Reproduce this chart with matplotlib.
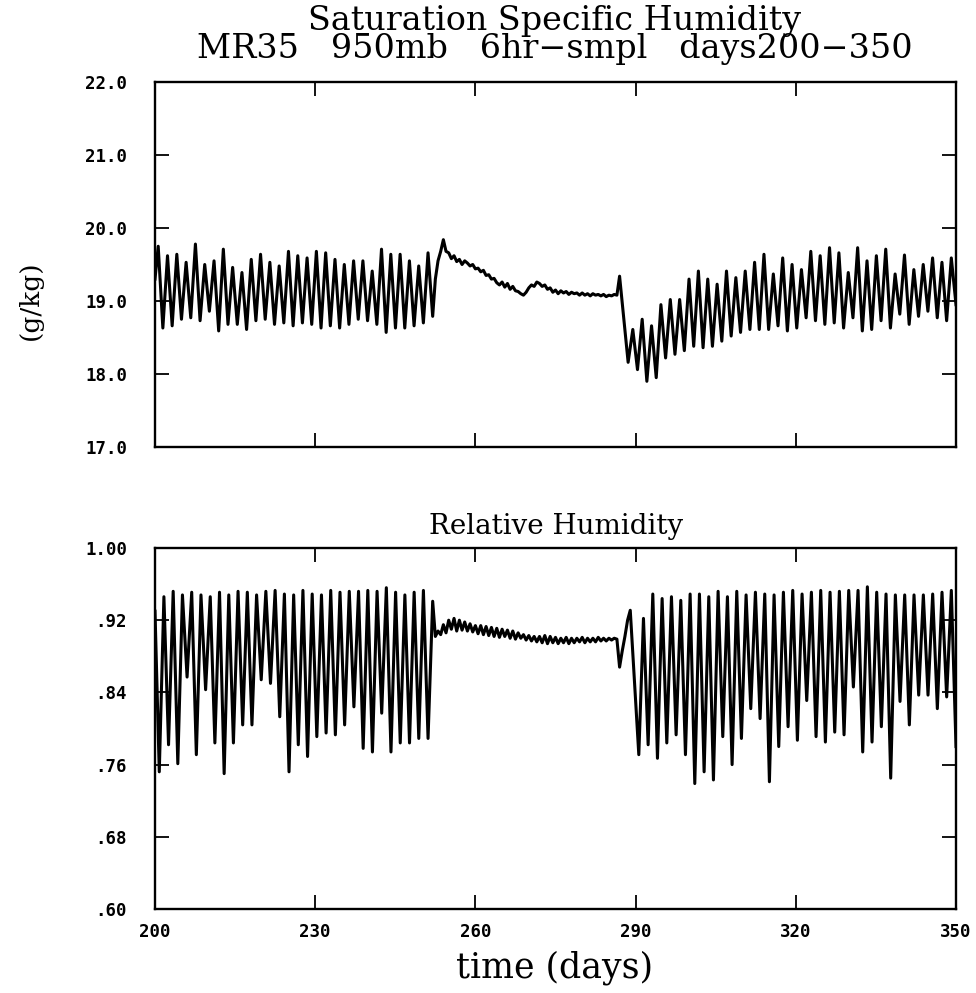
import numpy as np
import matplotlib
matplotlib.use("Agg")
import matplotlib.pyplot as plt
from matplotlib.ticker import FuncFormatter
from matplotlib.font_manager import FontProperties

# ---------------- data ----------------
# Saturation specific humidity (g/kg), 950 mb, days 200-350
qs_start = [200.0, 19.30]
qs_peaks_a = [19.75, 19.62, 19.64, 19.53, 19.78, 19.50, 19.55, 19.71, 19.46, 19.39,
              19.57, 19.64, 19.53, 19.48, 19.68, 19.62, 19.59, 19.68, 19.66, 19.57,
              19.50, 19.55, 19.55, 19.41, 19.71, 19.64, 19.64, 19.55, 19.48, 19.66]
qs_troughs_a = [18.63, 18.66, 18.75, 18.77, 18.73, 18.86, 18.59, 18.68, 18.68, 18.61,
                18.73, 18.75, 18.68, 18.70, 18.66, 18.70, 18.68, 18.63, 18.66, 18.63,
                18.68, 18.75, 18.73, 18.68, 18.57, 18.63, 18.63, 18.66, 18.70, 18.79]
qs_span_a = [200.6, 252.0]

# half-day values through the quiet spell (from day 252.5)
qs_quiet_start = 252.5
qs_quiet = [19.30, 19.55, 19.68, 19.84, 19.68, 19.66, 19.58, 19.62, 19.54, 19.57,
            19.50, 19.55, 19.52, 19.48, 19.50, 19.44, 19.45, 19.40, 19.42, 19.35,
            19.36, 19.30, 19.31, 19.25, 19.22, 19.26, 19.19, 19.24, 19.16, 19.20,
            19.14, 19.13, 19.10, 19.08, 19.12, 19.18, 19.22, 19.20, 19.26, 19.24,
            19.20, 19.22, 19.16, 19.18, 19.12, 19.15, 19.10, 19.14, 19.11, 19.13,
            19.09, 19.12, 19.10, 19.11, 19.08, 19.11, 19.08, 19.10, 19.07, 19.10,
            19.08, 19.09, 19.07, 19.09, 19.06, 19.08, 19.07, 19.09, 19.08, 19.34]

qs_span_c = [288.6, 350.0]
qs_osc_c = [18.16, 18.61, 18.06, 18.75, 17.90, 18.66, 17.95, 18.95, 18.22, 19.02,
            18.27, 19.02,
            18.32, 19.30, 18.38, 19.41, 18.36, 19.30, 18.38, 19.23, 18.45, 19.41,
            18.52, 19.32, 18.57, 19.41, 18.61, 19.53, 18.61, 19.64, 18.61, 19.37,
            18.66, 19.59, 18.59, 19.50, 18.63, 19.43, 18.77, 19.68, 18.73, 19.62,
            18.68, 19.73, 18.70, 19.66, 18.63, 19.39, 18.77, 19.73, 18.59, 19.55,
            18.61, 19.62, 18.73, 19.71, 18.63, 19.37, 18.82, 19.63, 18.68, 19.43,
            18.79, 19.50, 18.86, 19.59, 18.77, 19.53, 18.73, 19.59, 18.95]

# Relative humidity
rh_start = [200.0, 0.930]
rh_troughs_a = [0.752, 0.782, 0.761, 0.857, 0.771, 0.843, 0.784, 0.750, 0.784, 0.804,
                0.804, 0.854, 0.850, 0.813, 0.752, 0.782, 0.769, 0.791, 0.795, 0.793,
                0.804, 0.824, 0.778, 0.774, 0.817, 0.774, 0.784, 0.784, 0.789, 0.789]
rh_peaks_a = [0.946, 0.952, 0.948, 0.951, 0.948, 0.946, 0.951, 0.948, 0.952, 0.951,
              0.948, 0.952, 0.953, 0.949, 0.948, 0.953, 0.949, 0.948, 0.953, 0.951,
              0.952, 0.952, 0.953, 0.952, 0.956, 0.951, 0.948, 0.951, 0.953, 0.941]
rh_span_a = [200.8, 252.0]

rh_quiet_start = 252.5
rh_quiet = [0.902, 0.908, 0.904, 0.915, 0.906, 0.920, 0.910, 0.922, 0.908, 0.920,
            0.909, 0.918, 0.908, 0.916, 0.907, 0.914, 0.905, 0.914, 0.904, 0.913,
            0.903, 0.912, 0.902, 0.911, 0.901, 0.910, 0.902, 0.909, 0.900, 0.908,
            0.899, 0.906, 0.900, 0.904, 0.898, 0.903, 0.897, 0.902, 0.896, 0.902,
            0.895, 0.903, 0.894, 0.902, 0.895, 0.901, 0.894, 0.900, 0.895, 0.901,
            0.894, 0.900, 0.895, 0.900, 0.896, 0.901, 0.895, 0.900, 0.896, 0.900,
            0.896, 0.901, 0.897, 0.900, 0.897, 0.900, 0.898, 0.900, 0.899, 0.868,
            0.886, 0.902, 0.920, 0.931]

rh_span_c = [290.6, 350.0]
rh_osc_c = [0.771, 0.922, 0.782, 0.949, 0.767, 0.944, 0.784, 0.946, 0.793, 0.942,
            0.771, 0.949, 0.739, 0.949,
            0.752, 0.946, 0.743, 0.952, 0.791, 0.946, 0.760, 0.952, 0.789, 0.948,
            0.822, 0.951, 0.811, 0.949, 0.741, 0.948, 0.780, 0.951, 0.802, 0.953,
            0.787, 0.949, 0.831, 0.951, 0.791, 0.953, 0.785, 0.951, 0.796, 0.952,
            0.793, 0.953, 0.846, 0.953, 0.774, 0.957, 0.785, 0.951, 0.802, 0.949,
            0.745, 0.948, 0.830, 0.948, 0.804, 0.948, 0.837, 0.948, 0.837, 0.949,
            0.822, 0.951, 0.835, 0.953, 0.780]

x_ticks = [200, 230, 260, 290, 320, 350]
qs_ticks = [17.0, 18.0, 19.0, 20.0, 21.0, 22.0]
rh_ticks = [0.60, 0.68, 0.76, 0.84, 0.92, 1.00]


def build(start, first, second, span, quiet_start, quiet, osc, span_c):
    first_pair = np.column_stack([first, second]).ravel()
    days = np.concatenate([
        [start[0]],
        np.linspace(span[0], span[1], len(first_pair)),
        quiet_start + 0.5 * np.arange(len(quiet)),
        np.linspace(span_c[0], span_c[1], len(osc)),
    ])
    vals = np.concatenate([[start[1]], first_pair, quiet, osc])
    return days, vals


qs_days, qs_vals = build(qs_start, qs_peaks_a, qs_troughs_a, qs_span_a,
                         qs_quiet_start, qs_quiet, qs_osc_c, qs_span_c)
rh_days, rh_vals = build(rh_start, rh_troughs_a, rh_peaks_a, rh_span_a,
                         rh_quiet_start, rh_quiet, rh_osc_c, rh_span_c)

# ---------------- figure ----------------
W, H = 976, 993
fig = plt.figure(figsize=(W / 100, H / 100), dpi=100)

serif = ["DejaVu Serif"]
tick_fp = FontProperties(family="DejaVu Sans Mono", weight="bold", size=12.5)


def axes_box(l, t, r, b):
    return fig.add_axes([l / W, 1 - b / H, (r - l) / W, (b - t) / H])


ax1 = axes_box(155, 82, 956, 447)
ax2 = axes_box(155, 548, 956, 909)

for ax in (ax1, ax2):
    for s in ax.spines.values():
        s.set_linewidth(1.7)
    ax.tick_params(direction="in", length=10, width=1.3, top=True, right=True)
    ax.tick_params(axis="y", pad=20)
    ax.set_xlim(200, 350)
    ax.set_xticks(x_ticks)

ax1.plot(qs_days, qs_vals, color="black", lw=2.2, solid_joinstyle="round")
ax1.set_ylim(17, 22)
ax1.set_yticks(qs_ticks)
ax1.set_yticklabels([f"{v:.1f}" for v in qs_ticks])
ax1.tick_params(axis="x", labelbottom=False)

ax2.plot(rh_days, rh_vals, color="black", lw=2.2, solid_joinstyle="round")
ax2.set_ylim(0.60, 1.00)
ax2.set_yticks(rh_ticks)
ax2.yaxis.set_major_formatter(
    FuncFormatter(lambda v, p: f"{v:.2f}" if v >= 1 else f"{v:.2f}"[1:]))
ax2.set_xticklabels([str(v) for v in x_ticks])
ax2.tick_params(axis="x", pad=10)

for ax in (ax1, ax2):
    for lab in ax.get_yticklabels() + ax.get_xticklabels():
        lab.set_fontproperties(tick_fp)

fig.text(555 / W, 1 - 5 / H,
         "Saturation Specific Humidity\nMR35   950mb   6hr\u2212smpl   days200\u2212350",
         ha="center", va="top", multialignment="center", family=serif,
         fontsize=24, linespacing=0.84)
fig.text(556 / W, 1 - 527 / H, "Relative Humidity", ha="center", va="center",
         family=serif, fontsize=20)
fig.text(555 / W, 1 - 968 / H, "time (days)", ha="center", va="center",
         family=serif, fontsize=25)
fig.text(30 / W, 1 - 300 / H, "(g/kg)", ha="center", va="center", rotation=90,
         family=serif, fontsize=19)

fig.savefig("out.png", dpi=100)
